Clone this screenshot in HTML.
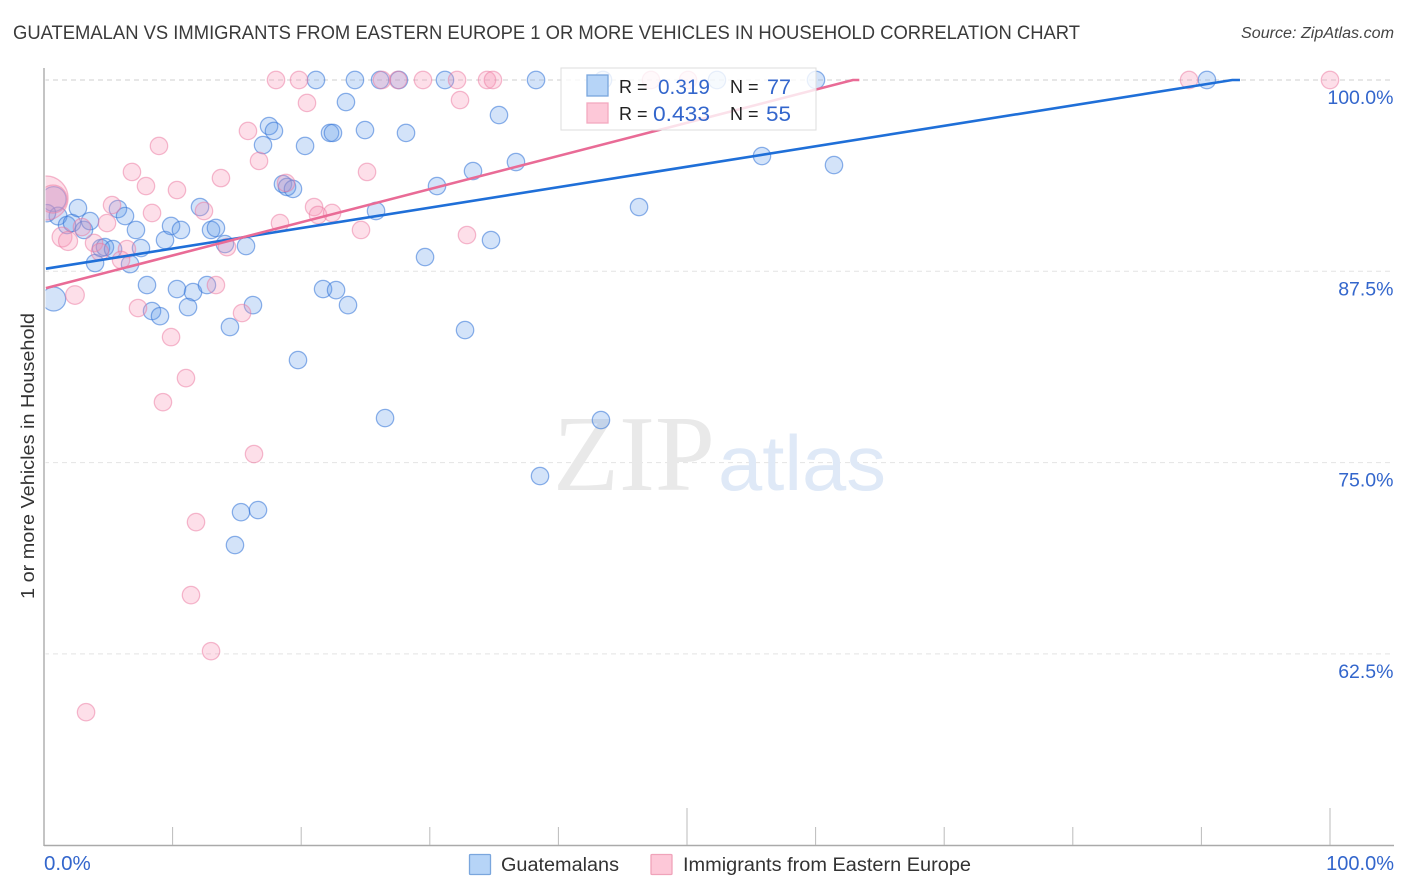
<!DOCTYPE html>
<html lang="en">
<head>
<meta charset="utf-8">
<title>Guatemalan vs Immigrants from Eastern Europe correlation chart</title>
<style>
html,body{margin:0;padding:0;background:#fff;width:1406px;height:892px;overflow:hidden}
svg{display:block;font-family:"Liberation Sans",sans-serif}
</style>
</head>
<body>
<svg id="chart" width="1406" height="892" viewBox="0 0 1406 892" xmlns="http://www.w3.org/2000/svg">
  <rect x="0" y="0" width="1406" height="892" fill="#ffffff"/>
  <text x="13" y="39" font-size="19" fill="#3a3a3a" textLength="1067" lengthAdjust="spacingAndGlyphs">GUATEMALAN VS IMMIGRANTS FROM EASTERN EUROPE 1 OR MORE VEHICLES IN HOUSEHOLD CORRELATION CHART</text>
  <text x="1241" y="38" font-size="15.5" font-style="italic" fill="#444" textLength="153" lengthAdjust="spacingAndGlyphs">Source: ZipAtlas.com</text>
  <g id="grid"></g>
  <g>
    <text x="553" y="490" font-size="108" fill="#e9e9e9" font-family="'Liberation Serif',serif" textLength="162" lengthAdjust="spacingAndGlyphs">ZIP</text>
    <text x="718" y="490" font-size="78" fill="#dfe9f7" textLength="168" lengthAdjust="spacingAndGlyphs">atlas</text>
  </g>
  <g id="points"></g>
  <rect x="0" y="60" width="45.5" height="786" fill="#ffffff"/>
  <g id="trends"></g>
  <g id="axes"></g>
  <g id="ticklabels"></g>
  <text transform="translate(34,456) rotate(-90)" font-size="18.5" fill="#333" text-anchor="middle" textLength="286" lengthAdjust="spacingAndGlyphs">1 or more Vehicles in Household</text>

  <g>
    <rect x="561" y="68" width="255" height="62" fill="#ffffff" fill-opacity="0.8" stroke="#dddddd" stroke-width="1"/>
    <rect x="587" y="75" width="21" height="21" fill="#b6d4f7" stroke="#7aa6dd" stroke-width="1.3"/>
    <rect x="587" y="103" width="21" height="20" fill="#fdc8d8" stroke="#f3a9c0" stroke-width="1.3"/>
    <text x="619" y="93" font-size="18" fill="#222">R =</text>
    <text x="658" y="94" font-size="21" fill="#3366cc" textLength="52" lengthAdjust="spacingAndGlyphs">0.319</text>
    <text x="730" y="93" font-size="18" fill="#222">N =</text>
    <text x="767" y="94" font-size="21" fill="#3366cc" textLength="24" lengthAdjust="spacingAndGlyphs">77</text>
    <text x="619" y="120" font-size="18" fill="#222">R =</text>
    <text x="653" y="121" font-size="21" fill="#3366cc" textLength="57" lengthAdjust="spacingAndGlyphs">0.433</text>
    <text x="730" y="120" font-size="18" fill="#222">N =</text>
    <text x="766" y="121" font-size="21" fill="#3366cc" textLength="25" lengthAdjust="spacingAndGlyphs">55</text>
  </g>

  <g>
    <rect x="469.5" y="854.5" width="21" height="20" rx="1" fill="#b6d4f7" stroke="#7aa6dd" stroke-width="1.3"/>
    <text x="501" y="871" font-size="19" fill="#333" textLength="118" lengthAdjust="spacingAndGlyphs">Guatemalans</text>
    <rect x="651" y="854.5" width="21" height="20" rx="1" fill="#fdc8d8" stroke="#f0a3ba" stroke-width="1.3"/>
    <text x="683" y="871" font-size="19" fill="#333" textLength="288" lengthAdjust="spacingAndGlyphs">Immigrants from Eastern Europe</text>
  </g>
</svg>
<script>
// ---- chart data (percent values) ----
const yTickValues = [100, 87.5, 75, 62.5];
const yTickLabels = ["100.0%", "87.5%", "75.0%", "62.5%"];
const xTickValues = [10, 20, 30, 40, 50, 60, 70, 80, 90, 100];
const xEndValues = [0, 100];
const xEndLabels = ["0.0%", "100.0%"];

const blueX = [0.75,0.75,1.09,1.79,2.18,2.64,3.11,3.58,3.97,4.43,4.74,5.37,5.75,6.30,7.15,6.69,7.54,8.01,8.40,9.02,9.41,9.88,10.65,10.34,11.59,11.20,12.67,12.13,12.99,13.37,14.07,15.71,16.25,14.46,19.75,17.50,17.88,17.03,20.30,18.58,18.90,19.36,21.70,22.71,23.64,21.15,24.18,23.48,22.24,22.47,24.96,25.82,28.15,26.13,27.60,31.18,38.26,43.47,52.33,60.03,35.38,30.56,33.36,36.70,46.27,55.83,61.43,34.76,29.63,32.74,26.52,43.31,38.57,15.32,16.64,14.85,90.43,0.23];
const blueY = [85.69,92.22,91.11,90.52,90.65,91.63,90.20,90.78,88.04,89.02,89.08,88.95,91.57,91.11,90.20,87.97,89.02,86.60,84.90,84.57,89.54,90.46,90.20,86.34,86.14,85.16,86.60,91.70,90.20,90.33,89.28,89.15,85.29,83.86,81.70,96.99,96.67,95.75,95.69,93.20,93.01,92.88,86.34,86.27,85.29,100,100,98.56,96.54,96.54,96.73,91.44,96.54,100,100,100,100,100,100,100,97.71,93.07,94.05,94.64,91.70,95.03,94.44,89.54,88.43,83.66,77.91,77.78,74.12,71.76,71.90,69.61,100,91.30];
const blueWeight = [1.9,2.05,1.05,1,1,1,1,1,1,1,1,1,1,1,1,1,1,1,1,1,1,1,1,1,1,1,1,1,1,1,1,1,1,1,1,1,1,1,1,1,1,1,1,1,1,1,1,1,1,1,1,1,1,1,1,1,1,1,1,1,1,1,1,1,1,1,1,1,1,1,1,1,1,1,1,1,1,1];

const pinkX = [0.16,0.70,8.94,6.84,7.93,10.34,13.76,5.29,4.90,8.40,12.44,1.40,1.87,2.95,3.89,4.35,6.45,5.99,2.41,7.31,9.88,15.40,13.37,14.23,15.86,16.72,18.35,18.82,21.00,21.31,22.40,24.65,18.04,19.83,20.45,25.12,26.28,27.53,29.47,32.12,34.45,34.91,32.35,32.89,47.20,50.08,89.04,100,11.04,9.25,16.33,11.82,11.43,12.99,3.27];
const pinkY = [92.29,92.22,95.69,93.99,93.07,92.81,93.59,91.83,90.65,91.31,91.44,89.74,89.48,90.39,89.35,88.76,88.95,88.24,85.95,85.10,83.20,84.77,86.60,89.08,96.67,94.71,90.65,93.27,91.70,91.18,91.31,90.20,100,100,98.50,93.99,100,100,100,100,100,100,98.69,89.87,100,100,100,100,80.52,78.95,75.56,71.11,66.34,62.68,58.69];
const pinkWeight = [6.4,2.6,1,1,1,1,1,1,1,1,1,1.3,1.2,1,1,1,1,1,1.15,1,1,1,1,1,1,1,1,1,1,1,1,1,1,1,1,1,1,1,1,1,1,1,1,1,1,1,1,1,1,1,1,1,1,1,1];

const blueTrendX = [0.15, 92.4, 93.0];
const blueTrendY = [87.67, 100, 100];
const pinkTrendX = [0.15, 62.9, 63.4];
const pinkTrendY = [86.40, 100, 100];

// ---- axis functions ----
const NS = 'http://www.w3.org/2000/svg';
function xScale(v) { return 44 + v * 12.86; }
function yScale(v) { return 80 + (100 - v) * 15.304; }
function rScale(w) { return 8.7 * Math.sqrt(w); }
function mk(parent, tag, attrs) {
  const el = document.createElementNS(NS, tag);
  for (const k in attrs) el.setAttribute(k, attrs[k]);
  parent.appendChild(el);
  return el;
}

// gridlines
const grid = document.getElementById('grid');
yTickValues.forEach(function (v, i) {
  const y = yScale(v);
  const el = mk(grid, 'line', {x1: 44, x2: 1394, y1: y, y2: y, stroke: i === 0 ? '#cfcfcf' : '#e4e4e4', 'stroke-width': 1, 'stroke-dasharray': '5 4'});
  
  
});

// axes
const axes = document.getElementById('axes');
const yAxisLine = mk(axes, 'line', {x1: 44, x2: 44, y1: 68, y2: 846, stroke: '#aaaaaa', 'stroke-width': 1.4});


const xAxisLine = mk(axes, 'line', {x1: 44, x2: 1394, y1: 845.5, y2: 845.5, stroke: '#aaaaaa', 'stroke-width': 1.4});


xTickValues.forEach(function (v) {
  const major = v === 50 || v === 100;
  const x = xScale(v);
  const el = mk(axes, 'line', {x1: x, x2: x, y1: major ? 808 : 827, y2: 845, stroke: '#bbbbbb', 'stroke-width': 1});
  
  
});

// tick labels
const labels = document.getElementById('ticklabels');
yTickValues.forEach(function (v, i) {
  const el = mk(labels, 'text', {x: 1393.5, y: yScale(v) + 24, 'font-size': 19.5, fill: '#3366cc', 'text-anchor': 'end'});
  el.textContent = yTickLabels[i];
  
  
});
xEndValues.forEach(function (v, i) {
  const el = mk(labels, 'text', i === 0
    ? {x: xScale(v), y: 870, 'font-size': 20.5, fill: '#3366cc'}
    : {x: 1394, y: 870, 'font-size': 20, fill: '#3366cc', 'text-anchor': 'end'});
  el.textContent = xEndLabels[i];
  
  
});

// points
const points = document.getElementById('points');
blueX.forEach(function (v, i) {
  const el = mk(points, 'circle', {cx: xScale(v), cy: yScale(blueY[i]), r: rScale(blueWeight[i]), fill: 'rgba(96,156,235,0.28)', stroke: 'rgba(50,115,215,0.55)', 'stroke-width': 1.25});
  
  
});
pinkX.forEach(function (v, i) {
  const el = mk(points, 'circle', {cx: xScale(v), cy: yScale(pinkY[i]), r: rScale(pinkWeight[i]), fill: 'rgba(248,150,182,0.3)', stroke: 'rgba(236,120,160,0.5)', 'stroke-width': 1.25});
  
  
});

// trend lines
const trends = document.getElementById('trends');
function trendPoints(xs, ys) {
  return xs.map(function (v, i) { return xScale(v) + ',' + yScale(ys[i]); }).join(' ');
}
const blueTrend = mk(trends, 'polyline', {points: trendPoints(blueTrendX, blueTrendY), fill: 'none', stroke: '#1f6fd8', 'stroke-width': 2.6});


const pinkTrend = mk(trends, 'polyline', {points: trendPoints(pinkTrendX, pinkTrendY), fill: 'none', stroke: '#e96b96', 'stroke-width': 2.6});


</script>
</body>
</html>
